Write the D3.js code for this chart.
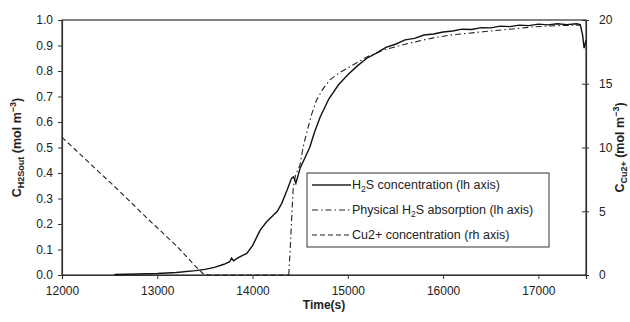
<!DOCTYPE html>
<html>
<head>
<meta charset="utf-8">
<script src="https://cdn.jsdelivr.net/npm/d3@7"></script>
<style>
 body { margin: 0; background: #fff; }
 text { font-family: "Liberation Sans", Arial, sans-serif; fill: #222; }
</style>
</head>
<body>
<script>
// H2S outlet concentration (lh axis)
var h2sTime = [12550, 12800, 13000, 13200, 13400, 13500, 13600, 13700, 13760, 13780, 13800, 13850, 13940, 14000, 14080, 14150, 14220, 14260, 14305, 14360, 14410, 14430, 14455, 14500, 14550, 14600, 14650, 14710, 14800, 14900, 15000, 15100, 15200, 15300, 15400, 15500, 15600, 15700, 15800, 15900, 16000, 16100, 16200, 16300, 16400, 16500, 16600, 16700, 16800, 16900, 17000, 17100, 17200, 17300, 17400, 17440, 17465, 17480, 17500];
var h2sConc = [0.002, 0.004, 0.006, 0.010, 0.017, 0.022, 0.030, 0.042, 0.052, 0.066, 0.056, 0.068, 0.085, 0.115, 0.176, 0.210, 0.235, 0.250, 0.280, 0.330, 0.380, 0.385, 0.360, 0.420, 0.460, 0.500, 0.560, 0.620, 0.690, 0.745, 0.785, 0.820, 0.850, 0.870, 0.893, 0.905, 0.922, 0.928, 0.941, 0.945, 0.953, 0.957, 0.964, 0.963, 0.970, 0.969, 0.976, 0.974, 0.980, 0.978, 0.984, 0.981, 0.985, 0.982, 0.985, 0.982, 0.940, 0.890, 0.920];

// physical H2S absorption (lh axis)
var physTime = [14380, 14395, 14410, 14427, 14450, 14497, 14530, 14567, 14620, 14672, 14740, 14812, 14900, 15022, 15200, 15372, 15600, 15896, 16100, 16421, 16700, 16945, 17200, 17440];
var physConc = [0.000, 0.100, 0.220, 0.340, 0.390, 0.430, 0.500, 0.556, 0.630, 0.686, 0.730, 0.765, 0.790, 0.817, 0.855, 0.882, 0.905, 0.930, 0.942, 0.954, 0.964, 0.973, 0.978, 0.980];

// Cu2+ concentration (rh axis)
var cuTime = [12000, 12300, 12600, 12900, 13200, 13400, 13480, 13550, 14000, 14380];
var cuConc = [10.8, 8.7, 6.6, 4.4, 2.3, 0.7, 0.1, 0, 0, 0];

var xTicks = [12000, 13000, 14000, 15000, 16000, 17000];
var yLeftTicks = [0, 0.1, 0.2, 0.3, 0.4, 0.5, 0.6, 0.7, 0.8, 0.9, 1.0];
var yRightTicks = [0, 5, 10, 15, 20];

var width = 630, height = 322;
var margin = {left: 62, right: 44, top: 20, bottom: 47};
var x0 = margin.left, x1 = width - margin.right, y0 = height - margin.bottom, y1 = margin.top;

var x = d3.scaleLinear().domain([12000, 17500]).range([x0, x1]);
var yL = d3.scaleLinear().domain([0, 1]).range([y0, y1]);
var yR = d3.scaleLinear().domain([0, 20]).range([y0, y1]);

var svg = d3.select("body").append("svg")
 .attr("width", width)
 .attr("height", height);

// frame
svg.append("rect")
 .attr("x", x0).attr("y", y1)
 .attr("width", x1 - x0).attr("height", y0 - y1)
 .attr("fill", "none").attr("stroke", "#333").attr("stroke-width", 1.2);

function styleAxis(g) {
 g.selectAll("path").attr("stroke", "#333").attr("stroke-width", 1.2);
 g.selectAll("line").attr("stroke", "#333");
 g.selectAll("text").attr("font-size", 12).attr("fill", "#222")
  .style("font-family", "'Liberation Sans', Arial, sans-serif");
}

svg.append("g")
 .attr("transform", "translate(0," + y0 + ")")
 .call(d3.axisBottom(x).tickValues(xTicks).tickFormat(d3.format("d")).tickSizeOuter(0).tickSize(4).tickPadding(7))
 .call(styleAxis);

svg.append("g")
 .attr("transform", "translate(" + x0 + ",0)")
 .call(d3.axisLeft(yL).tickValues(yLeftTicks).tickFormat(d3.format(".1f")).tickSizeOuter(0).tickSize(4).tickPadding(5))
 .call(styleAxis);

var gR = svg.append("g")
 .attr("transform", "translate(" + x1 + ",0)")
 .call(d3.axisRight(yR).tickValues(yRightTicks).tickSizeOuter(0).tickSize(3).tickPadding(10))
 .call(styleAxis);
gR.selectAll(".tick line").attr("x1", -4);

// lines
var lineL = d3.line().x(function(d) { return x(d[0]); }).y(function(d) { return yL(d[1]); });
var lineR = d3.line().x(function(d) { return x(d[0]); }).y(function(d) { return yR(d[1]); });

svg.append("path")
 .datum(d3.zip(cuTime, cuConc))
 .attr("d", lineR)
 .attr("fill", "none").attr("stroke", "#222").attr("stroke-width", 1.1)
 .attr("stroke-dasharray", "5,3");

svg.append("path")
 .datum(d3.zip(physTime, physConc))
 .attr("d", lineL)
 .attr("fill", "none").attr("stroke", "#222").attr("stroke-width", 1.1)
 .attr("stroke-dasharray", "6,3,1.5,3");

svg.append("path")
 .datum(d3.zip(h2sTime, h2sConc))
 .attr("d", lineL)
 .attr("fill", "none").attr("stroke", "#111").attr("stroke-width", 1.4);

// axis titles
svg.append("text")
 .attr("transform", "translate(" + (x0 + (x1 - x0) / 2) + ",309)")
 .attr("text-anchor", "middle")
 .attr("font-size", 12).attr("font-weight", "bold")
 .text("Time(s)");

var tl = svg.append("text")
 .attr("transform", "translate(21," + (y1 + (y0 - y1) / 2) + ") rotate(-90)")
 .attr("text-anchor", "middle")
 .attr("font-size", 12.5).attr("font-weight", "bold");
tl.append("tspan").text("C");
tl.append("tspan").attr("font-size", 9).attr("dy", 3).text("H2Sout");
tl.append("tspan").attr("dy", -3).text(" (mol m");
tl.append("tspan").attr("font-size", 9).attr("dy", -5).text("−3");
tl.append("tspan").attr("dy", 5).text(")");

var tr = svg.append("text")
 .attr("transform", "translate(624," + (y1 + (y0 - y1) / 2) + ") rotate(-90)")
 .attr("text-anchor", "middle")
 .attr("font-size", 12.5).attr("font-weight", "bold");
tr.append("tspan").text("C");
tr.append("tspan").attr("font-size", 9).attr("dy", 3).text("Cu2+");
tr.append("tspan").attr("dy", -3).text(" (mol m");
tr.append("tspan").attr("font-size", 9).attr("dy", -5).text("−3");
tr.append("tspan").attr("dy", 5).text(")");

// legend
var lg = svg.append("g").attr("transform", "translate(307,173)");
lg.append("rect")
 .attr("width", 242).attr("height", 74)
 .attr("fill", "#fff").attr("stroke", "#333").attr("stroke-width", 1);

var legendItems = [
 {dash: null, parts: [["H", 0], ["2", 1], ["S concentration (lh axis)", 0]]},
 {dash: "6,3,1.5,3", parts: [["Physical H", 0], ["2", 1], ["S absorption (lh axis)", 0]]},
 {dash: "5,3", parts: [["Cu2+ concentration (rh axis)", 0]]}
];
legendItems.forEach(function(item, i) {
 var yy = 12 + i * 25;
 lg.append("line")
  .attr("x1", 5).attr("x2", 44).attr("y1", yy).attr("y2", yy)
  .attr("stroke", "#222").attr("stroke-width", i === 0 ? 1.4 : 1.1)
  .attr("stroke-dasharray", item.dash);
 var t = lg.append("text").attr("x", 45).attr("y", yy + 4).attr("font-size", 12.5);
 var sub = false;
 item.parts.forEach(function(p) {
  var s = t.append("tspan").text(p[0]);
  if (p[1]) { s.attr("font-size", 8.5).attr("dy", 3); sub = true; }
  else if (sub) { s.attr("dy", -3); sub = false; }
 });
});
</script>
</body>
</html>
